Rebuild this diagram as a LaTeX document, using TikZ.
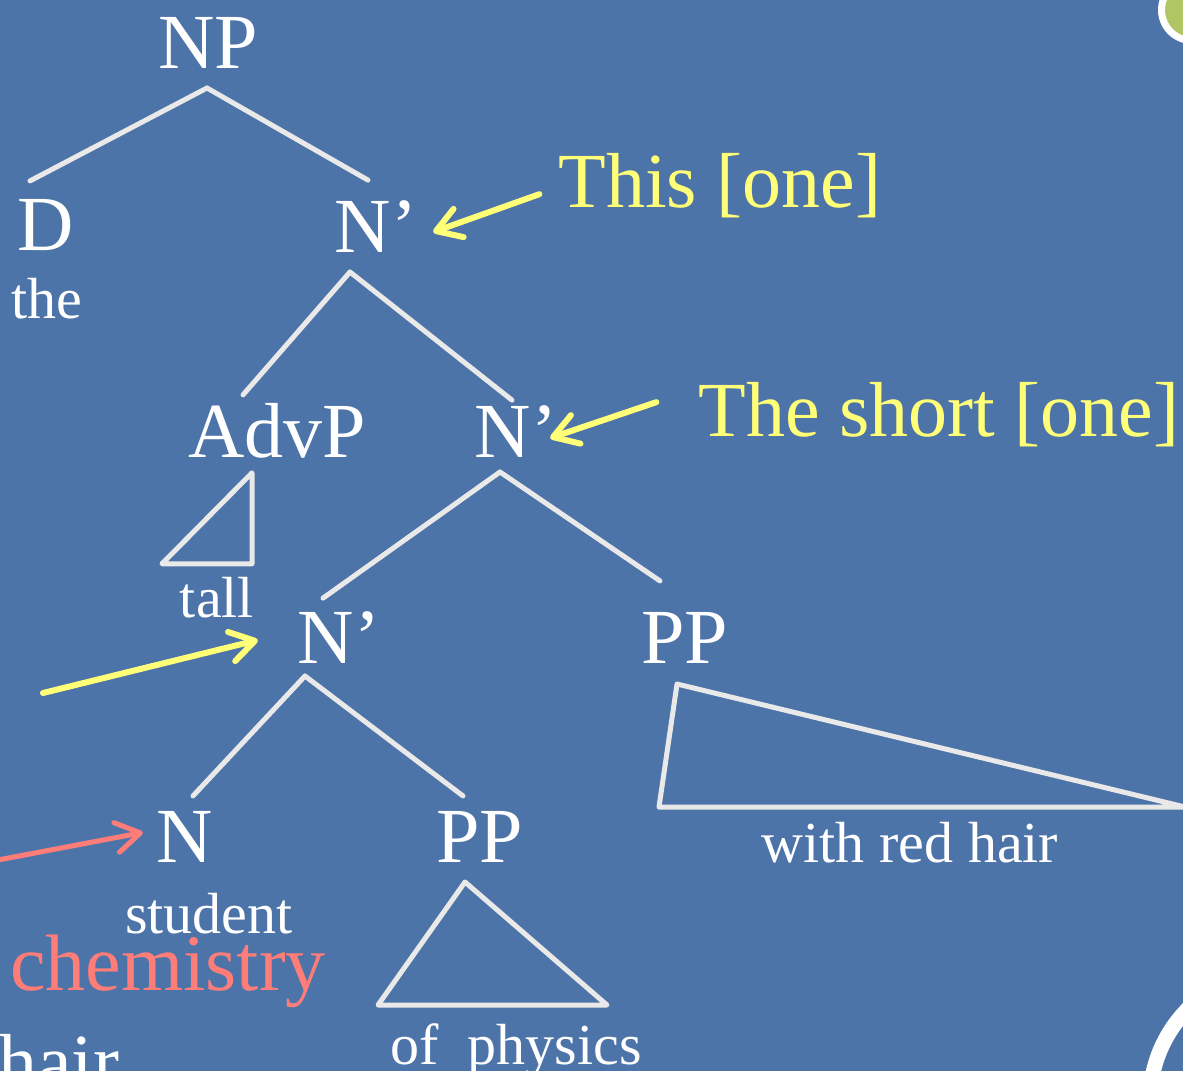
\documentclass[tikz,border=0pt]{standalone}
\usepackage{fontspec}
\setmainfont{Liberation Serif}
\usetikzlibrary{arrows.meta}

\definecolor{slide}{RGB}{77,116,168}
\definecolor{branchgray}{RGB}{233,233,233}
\definecolor{hiyellow}{RGB}{255,255,120}
\definecolor{hired}{RGB}{255,125,120}
\definecolor{dotgreen}{RGB}{176,198,100}

\tikzset{
    cat/.style={
        text=white,
        inner sep=0pt,
        outer sep=15pt,
        anchor=base,
        font=\fontsize{78}{80}\selectfont
    },
    word/.style={
        text=white,
        anchor=base,
        inner sep=0pt,
        font=\fontsize{58}{60}\selectfont
    },
    note/.style={
        text=hiyellow,
        anchor=base,
        inner sep=0pt,
        font=\fontsize{78}{80}\selectfont
    },
    branch/.style={
        color=branchgray,
        line width=5pt,
        line cap=round,
        line join=round
    },
    pointer/.style={
        color=hiyellow,
        line width=6pt,
        line cap=round,
        -{Straight Barb[length=24pt,width=30pt,round]}
    }
}

\begin{document}
\begin{tikzpicture}[x=1pt,y=-1pt]
\clip (0,0) rectangle (1183,1071);
\fill[slide] (0,0) rectangle (1183,1071);
% corner marks of the slide
\draw[white, fill=dotgreen, line width=7pt] (1192,10) circle (30.5pt);
\draw[white, line width=15pt] (1281,1101) circle (131pt);

		\path
			node[cat] at (208,68) (np) {NP}
			node[cat] at (46,250) (d) {D}
			node[cat] at (376,252) (nbar1) {N’}
			node[cat] at (277,457) (advp) {AdvP}
			node[cat] at (516,457) (nbar2) {N’}
			node[cat] at (339,663) (nbar3) {N’}
			node[cat] at (685,663) (pp1) {PP}
			node[cat] at (185,862) (n) {N}
			node[cat] at (480,862) (pp2) {PP}
			;
		\path
			node[word] at (47,318) (the) {the}
			node[word] at (217,617) (tall) {tall}
			node[word] at (209,933) (student) {student}
			node[word] at (516,1064) (physics) {of\ \ physics}
			node[word] at (910,862) (redhair) {with red hair}
			node[word, text=hired, font=\fontsize{80}{82}\selectfont] at (168,990) (chem) {chemistry}
			node[word, font=\fontsize{78}{80}\selectfont] at (59,1088) (hair) {hair}
			;
		\path
			node[note] at (720,207) (this) {This [one]}
			node[note] at (939,436) (short) {The short [one]}
			;

		\path[branch]
			([shift={(-1,5)}]np.south) edge ([shift={(-16,-3)}]d.north)
			                           edge ([shift={(-8,-5)}]nbar1.north)
			([shift={(-26,5)}]nbar1.south) edge ([shift={(-34,7)}]advp.north)
			                               edge ([shift={(-4,10)}]nbar2.north)
			([shift={(-16,0)}]nbar2.south) edge ([shift={(-16,2)}]nbar3.north)
			                               edge ([shift={(-25,-16)}]pp1.north)
			([shift={(-34,-2)}]nbar3.south) edge ([shift={(8,0)}]n.north)
			                                edge ([shift={(-17,0)}]pp2.north)
			;

		% triangles for the unanalysed phrases
		\draw[branch] ([shift={(-25,0)}]advp.south) -- ++(0,91) -- ++(-90,0) -- cycle;
		\draw[branch] ([shift={(-8,6)}]pp1.south) -- ++(-18,123) -- ++(526,0) -- cycle;
		\draw[branch] ([shift={(-15,5)}]pp2.south) -- ++(-87,123) -- ++(229,0) -- cycle;

		\coordinate (yfrom) at (43,693);
		\coordinate (rfrom) at (-2,860);

		\path[pointer]
			([shift={(-19,9)}]this.west) edge ([shift={(1,6)}]nbar1.east)
			([shift={(-42,-12)}]short.west) edge ([shift={(-22,7)}]nbar2.east)
			(yfrom) edge ([shift={(-25,3)}]nbar3.west)
			;
		\path[pointer, color=hired, line width=5pt]
			(rfrom) edge ([shift={(1,-4)}]n.west)
			;
\end{tikzpicture}
\end{document}
